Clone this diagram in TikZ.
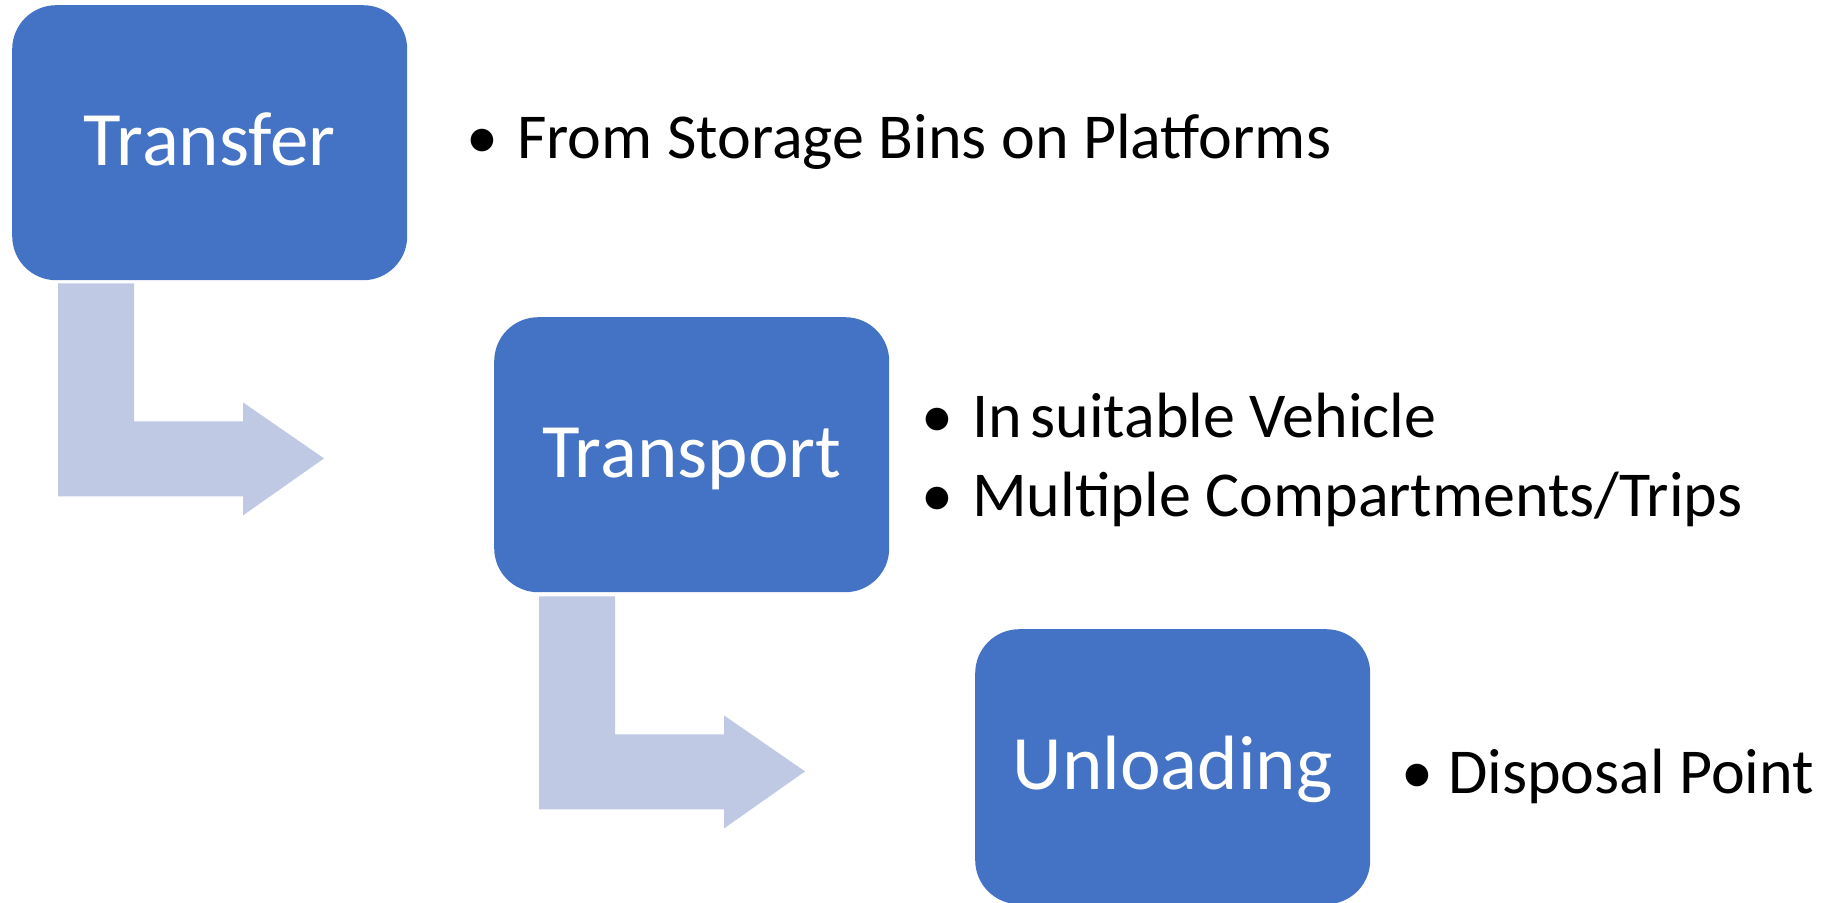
\documentclass[tikz,border=0pt]{standalone}
\usepackage{fontspec}
\setmainfont{Carlito}
\usetikzlibrary{calc}
\definecolor{boxblue}{HTML}{4472C4}
\definecolor{arrowblue}{HTML}{BFC9E3}
\tikzset{
  stage/.style={rectangle, rounded corners=44pt, fill=boxblue, draw=none,
    minimum width=395pt, minimum height=275pt, inner sep=0pt, anchor=north west},
  stagelabel/.style={text=white, font=\fontsize{77}{92}\selectfont, anchor=base, inner sep=0pt},
  bulletmark/.style={font=\fontsize{64}{77}\selectfont, anchor=base, inner sep=0pt},
  itemtext/.style={font=\fontsize{64}{77}\selectfont, anchor=base west, inner sep=0pt},
  pics/bentarrow/.style={code={
    \fill[arrowblue] (0,0) -- (76,0) -- (76,138) -- (185,138) -- (185,119)
      -- (266,175) -- (185,232) -- (185,213) -- (0,213) -- cycle;
  }}
}
\begin{document}
\begin{tikzpicture}[x=1pt,y=-1pt]
\useasboundingbox (0,0) rectangle (1827,902);
\clip (0,0) rectangle (1827,902);

% stage boxes
\node[stage] (s1) at (12,5) {};
\node[stage] (s2) at (494,317) {};
\node[stage] (s3) at (975,629) {};

\node[stagelabel] (l1) at ($(s1.north)+(0,160)$) {Transfer};
\node[stagelabel] (l2) at ($(s2.north)+(0,160)$) {Transport};
\node[stagelabel] (l3) at ($(s3.north)+(0,160)$) {Unloading};

% bent arrows between the stages
\pic at ($(s1.south west)+(46,3)$) {bentarrow};
\pic at ($(s2.south west)+(45,4)$) {bentarrow};

% bullet points
\node[bulletmark] (b1) at (482,158) {•};
\node[itemtext] (i1) at (517,158) {From Storage Bins on Platforms};

\node[bulletmark] (b2) at (937,437) {•};
\node[itemtext] (i2) at (972,437) {In\kern-6pt\ suitable Vehicle};
\node[bulletmark] (b3) at (937,516) {•};
\node[itemtext] (i3) at (972,516) {Multiple Compartments/Trips};

\node[bulletmark] (b4) at (1417,793) {•};
\node[itemtext] (i4) at (1448,793) {Disposal Point};
\end{tikzpicture}
\end{document}
